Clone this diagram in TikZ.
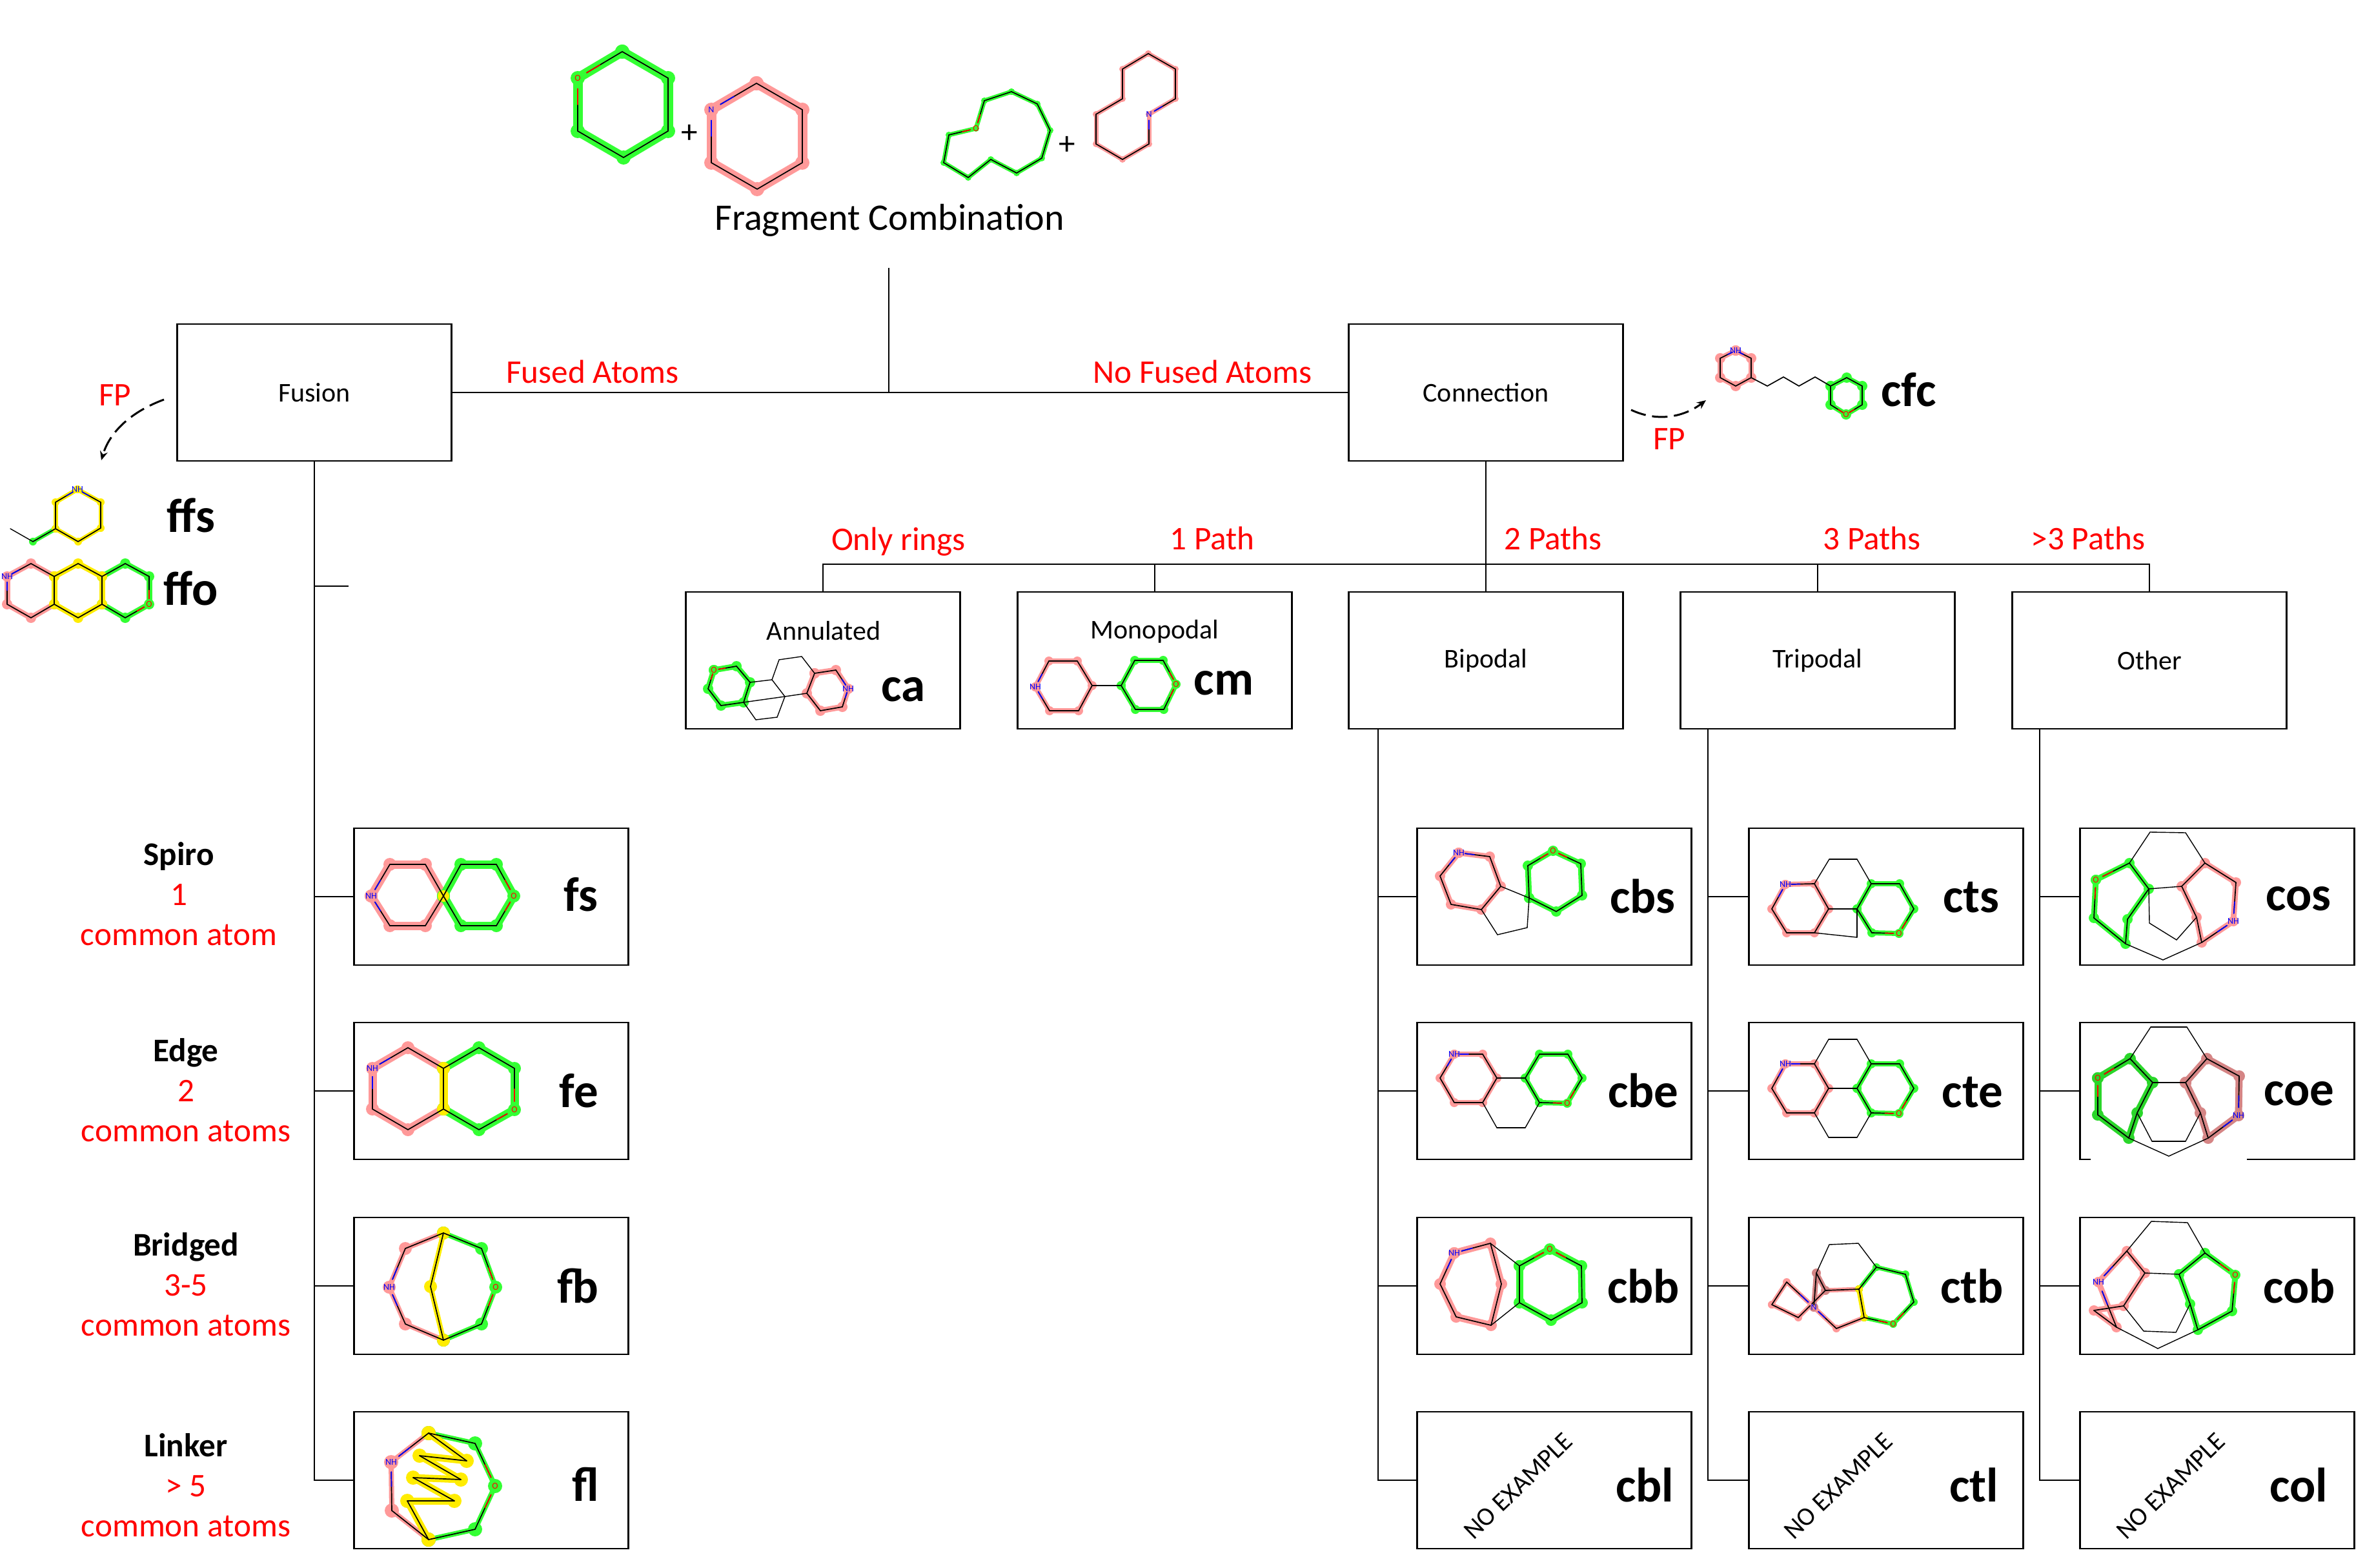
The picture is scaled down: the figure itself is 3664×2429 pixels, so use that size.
\documentclass[tikz,border=0pt]{standalone}
\usepackage{fontspec}
\setmainfont{Carlito}
\usetikzlibrary{calc,arrows.meta}
\definecolor{ringpink}{RGB}{255,153,153}
\definecolor{ringgreen}{RGB}{51,255,51}
\definecolor{ringyellow}{RGB}{255,236,0}
\definecolor{darkpink}{RGB}{213,133,133}
\definecolor{darkgreen}{RGB}{42,214,42}
\tikzset{
	boxnode/.style={draw,line width=1.4pt,minimum width=212.5pt,minimum height=106pt,inner sep=0pt,font=\fontsize{21}{21}\selectfont},
	tree/.style={line width=1.15pt},
	bond/.style={line width=0.85pt,line cap=round,black},
	bondthin/.style={line width=0.7pt,line cap=round,black},
	boxtxt/.style={font=\fontsize{21}{21}\selectfont,inner sep=0pt},
	nonetxt/.style={font=\fontsize{20}{20}\selectfont,inner sep=0pt,rotate=44},
	redtxt/.style={font=\fontsize{25.6}{25.6}\selectfont,text=red,inner sep=0pt},
	rowtxt/.style={font=\fontsize{25.6}{31}\selectfont,align=center,inner sep=0pt},
	codetxt/.style={font=\fontsize{37.5}{37.5}\selectfont\bfseries,inner sep=0pt},
	hettxt/.style={font=\fontsize{7}{7}\selectfont,inner sep=0pt},
	fparrow/.style={line width=1.5pt,dash pattern=on 12pt off 5pt,-{Stealth[length=7pt,width=6pt]}}
}
% highlight: colour, width, dot radius, points
\newcommand{\hlring}[4]{\foreach \p [count=\i,remember=\p as \q (initially 0)] in {#4}{
	\ifnum\i>1 \draw[#1,line width=(#2+5)*0.5pt,line cap=round] \q -- \p;\fi
	\fill[#1] \p circle (#3+1);}}
\newcommand{\bondline}[2][bond]{\foreach \p [count=\i,remember=\p as \q (initially 0)] in {#2}{
	\ifnum\i>1 \draw[#1] \q -- \p;\fi}}
% hetero atom: label, colour, highlight, atom, two neighbours
\newcounter{hetno}
\newcommand{\het}[6]{\stepcounter{hetno}
	\draw[#3,line width=1.4pt] (#4) -- ($(#4)!0.2!(#5)$);
	\draw[#3,line width=1.4pt] (#4) -- ($(#4)!0.2!(#6)$);
	\fill[#3] (#4) circle (3);
	\draw[bond,#2] ($(#4)!0.2!(#5)$) -- ($(#4)!0.5!(#5)$);
	\draw[bond,#2] ($(#4)!0.2!(#6)$) -- ($(#4)!0.5!(#6)$);
	\node[hettxt,text=#2] (het\thehetno) at (#4) {#1};}
\begin{document}
\begin{tikzpicture}[x=0.5pt,y=-0.5pt]
	\useasboundingbox (0,0) rectangle (3664,2429);
	% fragments on top
	\hlring{ringgreen}{10}{10}{(964,80),(1035,121),(1035,203),(966,244),(895,203),(895,121),(964,80)}
	\bondline{(964,80),(1035,121),(1035,203),(966,244),(895,203),(895,121),(964,80)}
	\het{O}{red}{ringgreen}{895,121}{964,80}{895,203}
	\hlring{ringpink}{10}{10}{(1172,129),(1243,170),(1243,252),(1173,293),(1102,252),(1102,170),(1172,129)}
	\bondline{(1172,129),(1243,170),(1243,252),(1173,293),(1102,252),(1102,170),(1172,129)}
	\het{N}{blue}{ringpink}{1102,170}{1172,129}{1102,252}
	\node[redtxt,text=black] (plusa) at (1068,207) {+};
	\hlring{ringgreen}{2}{4}{(1567,142),(1607,161),(1627,202),(1614,245),(1575,268),(1535,247),(1500,275),(1462,252),(1470,209),(1512,199),(1525,156),(1567,142)}
	\bondline{(1567,142),(1607,161),(1627,202),(1614,245),(1575,268),(1535,247),(1500,275),(1462,252),(1470,209),(1512,199),(1525,156),(1567,142)}
	\het{O}{red}{ringgreen}{1512,199}{1470,209}{1525,156}
	\node[redtxt,text=black] (plusb) at (1653,225) {+};
	\hlring{ringpink}{2}{4}{(1779,83),(1821,107),(1821,153),(1780,177),(1780,223),(1739,247),(1698,223),(1698,177),(1739,153),(1739,107),(1779,83)}
	\bondline{(1779,83),(1821,107),(1821,153),(1780,177),(1780,223),(1739,247),(1698,223),(1698,177),(1739,153),(1739,107),(1779,83)}
	\het{N}{blue}{ringpink}{1780,177}{1821,153}{1780,223}
	\node[font=\fontsize{29}{29}\selectfont,inner sep=0pt] (title) at (1378,341) {Fragment Combination};
	% main boxes
	\node[boxnode] (fusion) at (487,608) {Fusion};
	\node[boxnode] (connection) at (2302,608) {Connection};
	\node[boxnode] (annulated) at (1275,1023) {};
	\node[boxnode] (monopodal) at (1789,1023) {};
	\node[boxnode] (bipodal) at (2302,1023) {Bipodal};
	\node[boxnode] (tripodal) at (2816,1023) {Tripodal};
	\node[boxnode] (other) at (3330,1023) {Other};
	\node[boxtxt] (annulatedtxt) at (1276,977) {Annulated};
	\node[boxtxt] (monopodaltxt) at (1789,978) {Monopodal};
	% lower boxes
	\node[boxnode] (fs) at (761,1389) {};
	\node[boxnode] (fe) at (761,1690) {};
	\node[boxnode] (fb) at (761,1992) {};
	\node[boxnode] (fl) at (761,2293) {};
	\node[boxnode] (cbs) at (2408,1389) {};
	\node[boxnode] (cbe) at (2408,1690) {};
	\node[boxnode] (cbb) at (2408,1992) {};
	\node[boxnode] (cbl) at (2408,2293) {};
	\node[boxnode] (cts) at (2922,1389) {};
	\node[boxnode] (cte) at (2922,1690) {};
	\node[boxnode] (ctb) at (2922,1992) {};
	\node[boxnode] (ctl) at (2922,2293) {};
	\node[boxnode] (cos) at (3435,1389) {};
	\node[boxnode] (coe) at (3435,1690) {};
	\node[boxnode] (cob) at (3435,1992) {};
	\node[boxnode] (col) at (3435,2293) {};
	\draw[white,line width=1pt] (3239,1795.5) -- (3481,1795.5);
	% tree
	\coordinate (root) at (1377,415);
	\coordinate (rootjoin) at (1377,608);
	\coordinate (bus) at (2302,874);
	\coordinate (fusionstub) at (540,908);
	\coordinate (bipodalfoot) at (2135,1130);
	\coordinate (tripodalfoot) at (2646,1130);
	\coordinate (otherfoot) at (3160,1130);
	\draw[tree] (root) -- (rootjoin);
	\draw[tree] (fusion) -- (connection);
	\draw[tree] (connection.south) -- (bipodal.north);
	\draw[tree] (annulated.north) |- (bus) -| (other.north);
	\draw[tree] (monopodal.north) -- (monopodal.north |- bus);
	\draw[tree] (tripodal.north) -- (tripodal.north |- bus);
	\draw[tree] (fusion.south) |- (fl.west);
	\draw[tree] (fusion.south |- fusionstub) -- (fusionstub);
	\draw[tree] (fs.west) -- (fs.west -| fusion.south);
	\draw[tree] (fe.west) -- (fe.west -| fusion.south);
	\draw[tree] (fb.west) -- (fb.west -| fusion.south);
	\draw[tree] (bipodalfoot) |- (cbl.west);
	\draw[tree] (cbs.west) -- (cbs.west -| bipodalfoot);
	\draw[tree] (cbe.west) -- (cbe.west -| bipodalfoot);
	\draw[tree] (cbb.west) -- (cbb.west -| bipodalfoot);
	\draw[tree] (tripodalfoot) |- (ctl.west);
	\draw[tree] (cts.west) -- (cts.west -| tripodalfoot);
	\draw[tree] (cte.west) -- (cte.west -| tripodalfoot);
	\draw[tree] (ctb.west) -- (ctb.west -| tripodalfoot);
	\draw[tree] (otherfoot) |- (col.west);
	\draw[tree] (cos.west) -- (cos.west -| otherfoot);
	\draw[tree] (coe.west) -- (coe.west -| otherfoot);
	\draw[tree] (cob.west) -- (cob.west -| otherfoot);
	% red labels
	\node[redtxt] (fusedtxt) at (918,576) {Fused Atoms};
	\node[redtxt] (nofusedtxt) at (1863,576) {No Fused Atoms};
	\node[redtxt] (fplefttxt) at (178,612) {FP};
	\node[redtxt] (fprighttxt) at (2586,680) {FP};
	\node[redtxt] (onlytxt) at (1392,839) {Only rings};
	\node[redtxt] (onetxt) at (1878,834) {1 Path};
	\node[redtxt] (twotxt) at (2406,834) {2 Paths};
	\node[redtxt] (threetxt) at (2900,834) {3 Paths};
	\node[redtxt] (moretxt) at (3235,834) {>3 Paths};
	\node[rowtxt] (spirotxt) at (277,1385) {\textbf{Spiro}\\\textcolor{red}{1}\\\textcolor{red}{common atom}};
	\node[rowtxt] (edgetxt) at (288,1689) {\textbf{Edge}\\\textcolor{red}{2}\\\textcolor{red}{common atoms}};
	\node[rowtxt] (bridgedtxt) at (288,1990) {\textbf{Bridged}\\\textcolor{red}{3-5}\\\textcolor{red}{common atoms}};
	\node[rowtxt] (linkertxt) at (288,2301) {\textbf{Linker}\\\textcolor{red}{> 5}\\\textcolor{red}{common atoms}};
	% FP arrows
	\coordinate (fpleftstart) at (254,619);
	\coordinate (fpleftend) at (157,713);
	\coordinate (fprightstart) at (2527,635);
	\coordinate (fprightend) at (2643,620);
	\draw[fparrow] (fpleftstart) .. controls (205,637) and (170,668) .. (fpleftend);
	\draw[fparrow] (fprightstart) .. controls (2570,655) and (2610,645) .. (fprightend);
	% ffs
	\hlring{ringgreen}{2}{5}{(51,839),(86,819)}
	\hlring{ringyellow}{2}{5}{(120,758),(156,778),(156,818),(121,839),(86,819),(86,778),(120,758)}
	\bondline[bondthin]{(16,819),(51,839)}
	\bondline{(51,839),(86,819),(86,778),(120,758),(156,778),(156,818),(121,839),(86,819)}
	\het{NH}{blue}{ringyellow}{120,758}{86,778}{156,778}
	\node[codetxt] (ffstxt) at (296,798) {ffs};
	% ffo
	\hlring{ringpink}{4}{7}{(84,893),(48,873),(11,893),(11,936),(48,957),(84,936)}
	\hlring{ringgreen}{4}{7}{(158,893),(194,873),(231,893),(231,936),(194,957),(158,936)}
	\hlring{ringyellow}{4}{7}{(84,893),(121,873),(158,893),(158,936),(121,957),(84,936),(84,893)}
	\bondline{(84,893),(48,873),(11,893),(11,936),(48,957),(84,936),(84,893),(121,873),(158,893),(158,936),(121,957),(84,936)}
	\bondline{(158,893),(194,873),(231,893),(231,936),(194,957),(158,936)}
	\het{NH}{blue}{ringpink}{11,893}{48,873}{11,936}
	\het{O}{red}{ringgreen}{231,936}{231,893}{194,957}
	\node[codetxt] (ffotxt) at (296,911) {ffo};
	% cfc
	\hlring{ringpink}{3}{7}{(2689,543),(2713,555),(2713,585),(2689,598),(2665,585),(2665,555),(2689,543)}
	\hlring{ringgreen}{3}{7}{(2836,598),(2861,585),(2885,598),(2885,627),(2860,642),(2836,627),(2836,598)}
	\bondline{(2689,543),(2713,555),(2713,585),(2689,598),(2665,585),(2665,555),(2689,543)}
	\bondline{(2713,585),(2738,598),(2763,584),(2787,598),(2812,584),(2836,598)}
	\bondline{(2836,598),(2861,585),(2885,598),(2885,627),(2860,642),(2836,627),(2836,598)}
	\het{NH}{blue}{ringpink}{2689,543}{2665,555}{2713,555}
	\het{O}{red}{ringgreen}{2860,642}{2836,627}{2885,627}
	\node[codetxt] (cfctxt) at (2957,604) {cfc};
	% ca
	\hlring{ringgreen}{4}{7}{(1106,1038),(1141,1032),(1162,1057),(1152,1088),(1117,1093),(1097,1067),(1106,1038)}
	\hlring{ringpink}{4}{7}{(1262,1043),(1295,1038),(1314,1067),(1305,1095),(1271,1101),(1250,1074),(1262,1043)}
	\bondline{(1106,1038),(1141,1032),(1162,1057),(1152,1088),(1117,1093),(1097,1067),(1106,1038)}
	\bondline[bondthin]{(1162,1057),(1196,1053),(1216,1079),(1152,1088)}
	\bondline[bondthin]{(1152,1088),(1171,1115),(1204,1111),(1216,1079),(1250,1074)}
	\bondline[bondthin]{(1196,1053),(1207,1022),(1242,1017),(1262,1043)}
	\bondline{(1262,1043),(1295,1038),(1314,1067),(1305,1095),(1271,1101),(1250,1074),(1262,1043)}
	\het{O}{red}{ringgreen}{1106,1038}{1141,1032}{1097,1067}
	\het{NH}{blue}{ringpink}{1314,1067}{1295,1038}{1305,1095}
	\node[codetxt] (catxt) at (1399,1068) {ca};
	% cm
	\hlring{ringpink}{3}{6}{(1604,1064),(1625,1024),(1669,1024),(1692,1062),(1671,1101),(1626,1101),(1604,1064)}
	\hlring{ringgreen}{3}{6}{(1737,1062),(1758,1023),(1802,1023),(1822,1060),(1803,1099),(1759,1099),(1737,1062)}
	\bondline{(1604,1064),(1625,1024),(1669,1024),(1692,1062),(1671,1101),(1626,1101),(1604,1064)}
	\bondline{(1692,1062),(1737,1062),(1758,1023),(1802,1023),(1822,1060),(1803,1099),(1759,1099),(1737,1062)}
	\het{NH}{blue}{ringpink}{1604,1064}{1625,1024}{1626,1101}
	\het{O}{red}{ringgreen}{1822,1060}{1802,1023}{1803,1099}
	\node[codetxt] (cmtxt) at (1896,1058) {cm};
	% fs
	\hlring{ringpink}{8}{9}{(575,1388),(604,1339),(659,1339),(687,1388),(659,1434),(604,1434),(575,1388)}
	\hlring{ringgreen}{8}{9}{(687,1388),(714,1339),(769,1339),(796,1388),(769,1434),(714,1434),(687,1388)}
	\hlring{ringyellow}{1}{8}{(687,1388)}
	\bondline{(575,1388),(604,1339),(659,1339),(687,1388),(659,1434),(604,1434),(575,1388)}
	\bondline{(687,1388),(714,1339),(769,1339),(796,1388),(769,1434),(714,1434),(687,1388)}
	\het{NH}{blue}{ringpink}{575,1388}{604,1339}{604,1434}
	\het{O}{red}{ringgreen}{796,1388}{769,1339}{769,1434}
	\node[codetxt] (fstxt) at (900,1386) {fs};
	% fe
	\hlring{ringpink}{8}{9}{(687,1655),(632,1623),(577,1655),(577,1718),(632,1750),(687,1718)}
	\hlring{ringgreen}{8}{9}{(687,1655),(742,1623),(797,1655),(797,1719),(742,1750),(687,1718)}
	\hlring{ringyellow}{8}{9}{(687,1655),(687,1718)}
	\bondline{(687,1655),(632,1623),(577,1655),(577,1718),(632,1750),(687,1718),(687,1655)}
	\bondline{(687,1655),(742,1623),(797,1655),(797,1719),(742,1750),(687,1718)}
	\het{NH}{blue}{ringpink}{577,1655}{632,1623}{577,1718}
	\het{O}{red}{ringgreen}{797,1719}{797,1655}{742,1750}
	\node[codetxt] (fetxt) at (897,1690) {fe};
	% fb
	\hlring{ringpink}{3}{9}{(687,1910),(628,1934),(603,1994),(628,2051),(687,2076)}
	\hlring{ringgreen}{3}{9}{(687,1910),(746,1934),(768,1994),(746,2051),(687,2076)}
	\hlring{ringyellow}{3}{9}{(687,1910),(667,1993),(687,2076)}
	\bondline{(687,1910),(628,1934),(603,1994),(628,2051),(687,2076)}
	\bondline{(687,1910),(746,1934),(768,1994),(746,2051),(687,2076)}
	\bondline{(687,1910),(667,1993),(687,2076)}
	\het{NH}{blue}{ringpink}{603,1994}{628,1934}{628,2051}
	\het{O}{red}{ringgreen}{768,1994}{746,1934}{746,2051}
	\node[codetxt] (fbtxt) at (895,1992) {fb};
	% fl
	\hlring{ringpink}{3}{10}{(664,2220),(606,2265),(607,2340),(664,2385)}
	\hlring{ringgreen}{3}{10}{(664,2220),(736,2236),(767,2302),(736,2369),(664,2385)}
	\hlring{ringyellow}{6}{10}{(664,2220),(723,2263),(650,2255),(714,2292),(640,2289),(704,2325),(631,2325),(664,2385)}
	\bondline{(664,2220),(606,2265),(607,2340),(664,2385)}
	\bondline{(664,2220),(736,2236),(767,2302),(736,2369),(664,2385)}
	\bondline{(664,2220),(723,2263),(650,2255),(714,2292),(640,2289),(704,2325),(631,2325),(664,2385)}
	\het{NH}{blue}{ringpink}{606,2265}{664,2220}{607,2340}
	\het{O}{red}{ringgreen}{767,2302}{736,2236}{736,2369}
	\node[codetxt] (fltxt) at (907,2299) {fl};
	% cbs
	\hlring{ringpink}{4}{7}{(2260,1321),(2308,1327),(2325,1373),(2295,1409),(2248,1401),(2231,1357),(2260,1321)}
	\hlring{ringgreen}{4}{7}{(2369,1391),(2367,1341),(2406,1318),(2449,1338),(2451,1387),(2411,1412),(2369,1391)}
	\bondline{(2260,1321),(2308,1327),(2325,1373),(2295,1409),(2248,1401),(2231,1357),(2260,1321)}
	\bondline{(2369,1391),(2367,1341),(2406,1318),(2449,1338),(2451,1387),(2411,1412),(2369,1391)}
	\bondline[bondthin]{(2325,1373),(2369,1391),(2366,1437),(2320,1448),(2295,1409)}
	\het{NH}{blue}{ringpink}{2260,1321}{2231,1357}{2308,1327}
	\het{O}{red}{ringgreen}{2406,1318}{2367,1341}{2449,1338}
	\node[codetxt] (cbstxt) at (2545,1388) {cbs};
	% cbe
	\hlring{ringpink}{3}{6}{(2253,1633),(2297,1633),(2319,1670),(2297,1708),(2253,1708),(2231,1670),(2253,1633)}
	\hlring{ringgreen}{3}{6}{(2363,1670),(2385,1633),(2429,1633),(2451,1670),(2428,1709),(2385,1708),(2363,1670)}
	\bondline{(2253,1633),(2297,1633),(2319,1670),(2297,1708),(2253,1708),(2231,1670),(2253,1633)}
	\bondline{(2363,1670),(2385,1633),(2429,1633),(2451,1670),(2428,1709),(2385,1708),(2363,1670)}
	\bondline[bondthin]{(2319,1670),(2363,1670)}
	\bondline[bondthin]{(2297,1708),(2319,1747),(2363,1747),(2385,1708)}
	\het{NH}{blue}{ringpink}{2253,1633}{2231,1670}{2297,1633}
	\het{O}{red}{ringgreen}{2428,1709}{2451,1670}{2385,1708}
	\node[codetxt] (cbetxt) at (2546,1689) {cbe};
	% cbb
	\hlring{ringpink}{6}{8}{(2253,1941),(2309,1926),(2326,1989),(2310,2053),(2256,2040),(2231,1989),(2253,1941)}
	\hlring{ringgreen}{6}{8}{(2354,1961),(2401,1935),(2450,1961),(2451,2018),(2403,2045),(2354,2018),(2354,1961)}
	\bondline{(2253,1941),(2309,1926),(2326,1989),(2310,2053),(2256,2040),(2231,1989),(2253,1941)}
	\bondline{(2354,1961),(2401,1935),(2450,1961),(2451,2018),(2403,2045),(2354,2018),(2354,1961)}
	\bondline[bondthin]{(2309,1926),(2354,1961)}
	\bondline[bondthin]{(2310,2053),(2354,2018)}
	\het{NH}{blue}{ringpink}{2253,1941}{2231,1989}{2309,1926}
	\het{O}{red}{ringgreen}{2401,1935}{2354,1961}{2450,1961}
	\node[codetxt] (cbbtxt) at (2546,1992) {cbb};
	% cbl
	\node[nonetxt] (cblnone) at (2352,2302) {NO EXAMPLE};
	\node[codetxt] (cbltxt) at (2548,2300) {cbl};
	% cts
	\hlring{ringpink}{3}{6}{(2766,1370),(2811,1369),(2833,1408),(2811,1445),(2768,1445),(2745,1408),(2766,1370)}
	\hlring{ringgreen}{3}{6}{(2877,1408),(2899,1369),(2943,1369),(2965,1408),(2942,1446),(2900,1445),(2877,1408)}
	\bondline{(2766,1370),(2811,1369),(2833,1408),(2811,1445),(2768,1445),(2745,1408),(2766,1370)}
	\bondline{(2877,1408),(2899,1369),(2943,1369),(2965,1408),(2942,1446),(2900,1445),(2877,1408)}
	\bondline[bondthin]{(2811,1369),(2834,1331),(2877,1331),(2899,1369)}
	\bondline[bondthin]{(2833,1408),(2877,1408),(2877,1452),(2811,1445)}
	\het{NH}{blue}{ringpink}{2766,1370}{2745,1408}{2811,1369}
	\het{O}{red}{ringgreen}{2942,1446}{2965,1408}{2900,1445}
	\node[codetxt] (ctstxt) at (3054,1390) {cts};
	% cte
	\hlring{ringpink}{3}{6}{(2766,1648),(2811,1648),(2833,1686),(2811,1724),(2768,1724),(2745,1686),(2766,1648)}
	\hlring{ringgreen}{3}{6}{(2877,1686),(2899,1648),(2943,1648),(2965,1686),(2942,1725),(2899,1724),(2877,1686)}
	\bondline{(2766,1648),(2811,1648),(2833,1686),(2811,1724),(2768,1724),(2745,1686),(2766,1648)}
	\bondline{(2877,1686),(2899,1648),(2943,1648),(2965,1686),(2942,1725),(2899,1724),(2877,1686)}
	\bondline[bondthin]{(2811,1648),(2833,1610),(2877,1610),(2899,1648)}
	\bondline[bondthin]{(2833,1686),(2877,1686)}
	\bondline[bondthin]{(2811,1724),(2833,1762),(2877,1762),(2899,1724)}
	\het{NH}{blue}{ringpink}{2766,1648}{2745,1686}{2811,1648}
	\het{O}{red}{ringgreen}{2942,1725}{2965,1686}{2899,1724}
	\node[codetxt] (ctetxt) at (3056,1692) {cte};
	% ctb
	\hlring{ringpink}{2}{5}{(2745,2021),(2768,1986),(2810,2025),(2845,2058),(2888,2041)}
	\hlring{ringpink}{2}{5}{(2745,2021),(2786,2041),(2828,1999),(2880,1997)}
	\hlring{darkpink}{3}{6}{(2810,2025),(2814,1972),(2828,1999)}
	\hlring{ringgreen}{2}{5}{(2880,1997),(2907,1963),(2952,1974),(2965,2017),(2933,2051),(2888,2041)}
	\hlring{ringyellow}{3}{5}{(2880,1997),(2888,2041)}
	\bondline{(2745,2021),(2768,1986),(2810,2025),(2845,2058),(2888,2041)}
	\bondline{(2745,2021),(2786,2041),(2828,1999),(2880,1997),(2888,2041)}
	\bondline{(2810,2025),(2814,1972),(2828,1999)}
	\bondline{(2880,1997),(2907,1963),(2952,1974),(2965,2017),(2933,2051),(2888,2041)}
	\bondline[bondthin]{(2814,1972),(2834,1928),(2879,1926),(2907,1963)}
	\het{N}{blue}{ringpink}{2810,2025}{2768,1986}{2845,2058}
	\het{O}{red}{ringgreen}{2933,2051}{2965,2017}{2888,2041}
	\node[codetxt] (ctbtxt) at (3055,1992) {ctb};
	% ctl
	\node[nonetxt] (ctlnone) at (2848,2302) {NO EXAMPLE};
	\node[codetxt] (ctltxt) at (3058,2300) {ctl};
	% cos
	\hlring{ringgreen}{4}{7}{(3247,1363),(3299,1337),(3329,1377),(3296,1424),(3293,1462),(3244,1422),(3247,1363)}
	\hlring{ringpink}{4}{7}{(3380,1373),(3416,1337),(3464,1367),(3460,1427),(3411,1460),(3403,1421),(3380,1373)}
	\bondline{(3247,1363),(3299,1337),(3329,1377),(3296,1424),(3293,1462),(3244,1422),(3247,1363)}
	\bondline{(3380,1373),(3416,1337),(3464,1367),(3460,1427),(3411,1460),(3403,1421),(3380,1373)}
	\bondline[bondthin]{(3299,1337),(3331,1289),(3386,1290),(3416,1337)}
	\bondline[bondthin]{(3329,1377),(3380,1373)}
	\bondline[bondthin]{(3329,1377),(3330,1430),(3372,1456),(3403,1421)}
	\bondline[bondthin]{(3293,1462),(3351,1487),(3411,1460)}
	\het{O}{red}{ringgreen}{3247,1363}{3299,1337}{3244,1422}
	\het{NH}{blue}{ringpink}{3460,1427}{3464,1367}{3411,1460}
	\node[codetxt] (costxt) at (3561,1392) {cos};
	% coe
	\hlring{darkgreen}{6}{8}{(3250,1670),(3300,1640),(3335,1677),(3311,1724),(3298,1763),(3250,1727),(3250,1670)}
	\hlring{darkpink}{6}{8}{(3386,1677),(3419,1640),(3469,1667),(3468,1728),(3421,1763),(3409,1724),(3386,1677)}
	\bondline{(3250,1670),(3300,1640),(3335,1677),(3311,1724),(3298,1763),(3250,1727),(3250,1670)}
	\bondline{(3386,1677),(3419,1640),(3469,1667),(3468,1728),(3421,1763),(3409,1724),(3386,1677)}
	\bondline[bondthin]{(3300,1640),(3332,1591),(3388,1591),(3419,1640)}
	\bondline[bondthin]{(3335,1677),(3386,1677)}
	\bondline[bondthin]{(3311,1724),(3334,1768),(3386,1768),(3409,1724)}
	\bondline[bondthin]{(3298,1763),(3360,1791),(3421,1763)}
	\het{O}{red}{darkgreen}{3250,1670}{3300,1640}{3250,1727}
	\het{NH}{blue}{darkpink}{3468,1728}{3469,1667}{3421,1763}
	\node[codetxt] (coetxt) at (3562,1694) {coe};
	% cob
	\hlring{ringpink}{4}{7}{(3251,1986),(3295,1938),(3323,1972),(3290,2023),(3244,2030),(3279,2056),(3251,1986)}
	\hlring{ringgreen}{4}{7}{(3376,1974),(3416,1941),(3463,1975),(3458,2031),(3405,2060),(3393,2020),(3376,1974)}
	\bondline{(3251,1986),(3295,1938),(3323,1972),(3290,2023),(3244,2030),(3279,2056),(3251,1986)}
	\bondline{(3376,1974),(3416,1941),(3463,1975),(3458,2031),(3405,2060),(3393,2020),(3376,1974)}
	\bondline[bondthin]{(3295,1938),(3333,1892),(3389,1894),(3416,1941)}
	\bondline[bondthin]{(3323,1972),(3376,1974)}
	\bondline[bondthin]{(3290,2023),(3321,2062),(3371,2064),(3393,2020)}
	\bondline[bondthin]{(3279,2056),(3343,2089),(3405,2060)}
	\het{NH}{blue}{ringpink}{3251,1986}{3295,1938}{3279,2056}
	\het{O}{red}{ringgreen}{3463,1975}{3416,1941}{3458,2031}
	\node[codetxt] (cobtxt) at (3562,1992) {cob};
	% col
	\node[nonetxt] (colnone) at (3363,2302) {NO EXAMPLE};
	\node[codetxt] (coltxt) at (3561,2300) {col};
\end{tikzpicture}
\end{document}
